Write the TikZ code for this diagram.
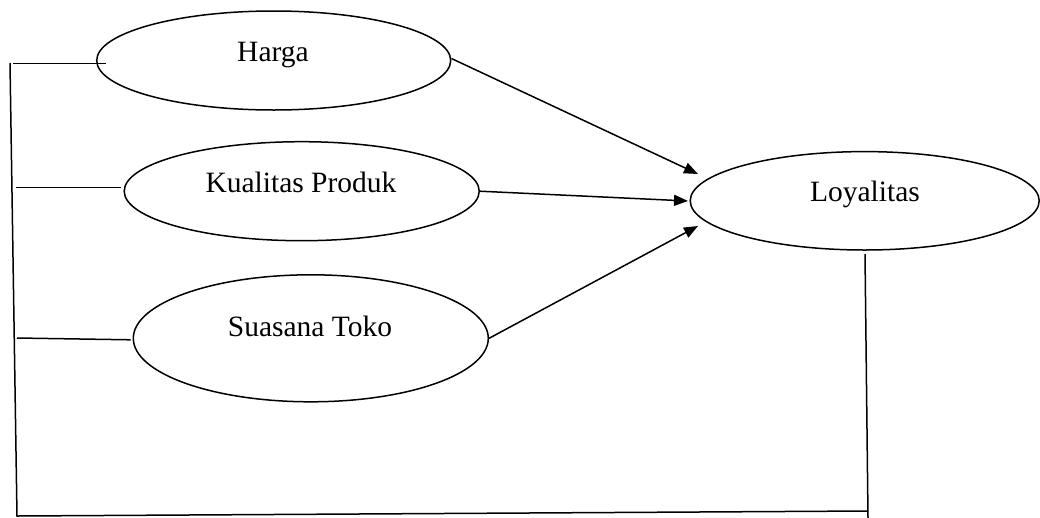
\documentclass[tikz,border=0pt]{standalone}
\usepackage{fontspec}
\setmainfont{Liberation Serif}
\usetikzlibrary{arrows.meta,shapes.geometric,calc}
\begin{document}
\begin{tikzpicture}[x=1pt,y=-1pt,
  oval/.style={draw, ellipse, line width=1.5pt, inner sep=0pt},
  lbl/.style={anchor=base, inner sep=0pt, font=\fontsize{29.5}{35}\selectfont},
  link/.style={line width=1.5pt},
  arr/.style={line width=1.5pt, -{Triangle[length=14pt,width=11pt]}}]
\useasboundingbox (0,0) rectangle (1040,517);
% ellipses
\node[oval, minimum width=354pt, minimum height=99pt] (h) at (273.7,60.5) {};
\node[oval, minimum width=355pt, minimum height=99pt] (k) at (301.7,191.2) {};
\node[oval, minimum width=355pt, minimum height=127pt] (s) at (310.8,338.3) {};
\node[oval, minimum width=349pt, minimum height=98.4pt] (l) at (864.7,200.8) {};
% labels
\node[lbl] (ht) at (273,61.7) {Harga};
\node[lbl] (kt) at (301,192.7) {Kualitas Produk};
\node[lbl] (st) at (310,336.7) {Suasana Toko};
\node[lbl] (lt) at (865,201) {Loyalitas};
% frame coordinates
\coordinate (vtop) at (10,63);
\coordinate (vbot) at (17,516);
\coordinate (rb) at (868,511);
\coordinate (rtop) at (865,254);
\coordinate (rend) at (868,518);
\coordinate (hl) at (13,63.3);
\coordinate (kl) at (16,187.7);
\coordinate (sl) at (17,338);
% arrow tips
\coordinate (t1) at (698,174);
\coordinate (t2) at (688,201);
\coordinate (t3) at (698,226);
% frame lines
\draw[link] (vtop) -- (vbot) -- (rb);
\draw[link] (rtop) -- (rend);
\draw[link] (hl) -- ($(h.west)+(10,2.8)$);
\draw[link] (kl) -- ($(k.west)+(-2,-3.5)$);
\draw[link] (sl) -- ($(s.west)+(-2,1.5)$);
% arrows
\draw[arr] ($(h.east)+(0,-2)$) -- (t1);
\draw[arr] (k.east) -- (t2);
\draw[arr] (s.east) -- (t3);
\end{tikzpicture}
\end{document}
